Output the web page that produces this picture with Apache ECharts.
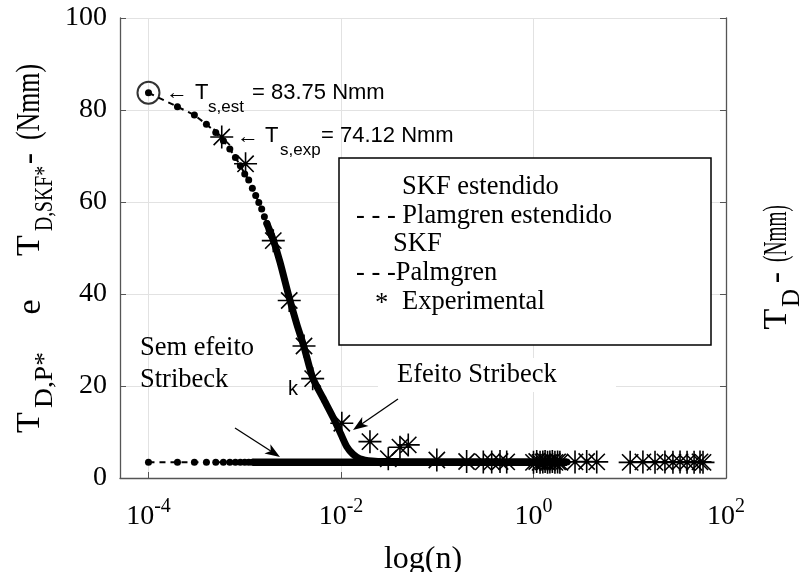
<!DOCTYPE html>
<html><head><meta charset="utf-8">
<script src="https://cdn.jsdelivr.net/npm/echarts@6/dist/echarts.min.js"></script>
<style>html,body{margin:0;padding:0;background:#fff}#c{width:806px;height:572px}</style>
</head><body><div id="c"></div>
<script>
// ---- tick values ----
const xTicks = [1e-4, 1e-2, 1, 100];
const yTicks = [0, 20, 40, 60, 80, 100];

// ---- "Plamgren estendido" (dotted, dashed) ----
const plamgrenEstN = [1e-4,2e-4,3e-4,4e-4,5e-4,6e-4,7e-4,8e-4,9e-4,1e-3,1.1e-3,1.2e-3,1.3e-3,1.4e-3,1.5e-3,1.6e-3,1.7e-3,1.8e-3,1.9e-3,2e-3];
const plamgrenEstT = [83.75,80.7,78.9,76.9,75.1,73.3,71.5,69.7,67.9,66.1,64.8,63.0,61.4,59.9,58.5,56.8,55.3,53.8,52.7,51.6];

// ---- "SKF estendido" (thick solid) ----
const skfEstN = [1.7e-3,1.99e-3,2.32e-3,2.9e-3,3.47e-3,4.13e-3,5.08e-3,6.5e-3,8.26e-3,0.01,0.0115,0.0133,0.0157,0.021,0.0323,2.23];
const skfEstT = [55.3,51.6,47.0,39.2,33.5,28.5,21.8,17.4,13.2,9.5,6.8,5.2,4.2,3.7,3.5,3.5];

// ---- "Palmgren" (dotted, dashed) ----
const palmgrenN = [1e-4,2e-4,3e-4,4e-4,5e-4,6e-4,7e-4,8e-4,9e-4,1e-3,1.1e-3,1.2e-3];
const palmgrenT = [3.4,3.4,3.4,3.4,3.4,3.4,3.4,3.4,3.4,3.4,3.4,3.4];

// ---- "SKF" (thick solid) ----
const skfN = [1.2e-3, 2.23];
const skfT = [3.4, 3.4];

// ---- Experimental (*) ----
const expN = [5.77e-4,1.02e-3,1.98e-3,2.9e-3,4.13e-3,5.08e-3,0.0102,0.020,0.031,0.041,0.050,0.099,0.202,0.301,0.368,0.449,0.527,1.0,1.08,1.17,1.25,1.32,1.40,1.48,1.57,1.67,1.78,1.88,2.70,3.57,4.54,10.1,13.7,18.3,23.2,28.1,33.3,39.4,46.6,53.7,57.7];
const expT = [74.12,68.3,51.6,38.6,28.7,21.6,11.9,7.9,4.2,6.7,7.2,3.9,3.6,3.5,3.5,3.6,3.5,3.4,3.6,3.4,3.5,3.6,3.4,3.5,3.6,3.4,3.5,3.4,3.5,3.6,3.5,3.4,3.5,3.4,3.5,3.4,3.5,3.4,3.4,3.5,3.4];

// ---- T_s,est marker ----
const tsEstN = [1e-4];
const tsEstT = [83.75];

const SERIF = '"Liberation Serif", "Times New Roman", serif';
const SANS = '"Liberation Sans", Arial, "DejaVu Sans", sans-serif';
const pairs = (a, b) => a.map((v, i) => [v, b[i]]);
const starPath = 'path://M10 0L10 20M0 10L20 10M2.93 2.93L17.07 17.07M2.93 17.07L17.07 2.93';

const mctx = document.createElement('canvas').getContext('2d');
function measure(t, size, fam) { mctx.font = size + 'px ' + fam; return mctx.measureText(t).width; }
function vtext(t, yTop, yBot, xc, size, fam, natural) {
  const nat = measure(t, size, fam);
  return { type: 'text', x: xc, y: (yTop + yBot) / 2, rotation: Math.PI / 2, scaleX: natural ? 1 : (yBot - yTop) / nat, z: 20,
    style: { text: t, font: size + 'px ' + fam, fill: '#000', textAlign: 'center', textVerticalAlign: 'middle', align: 'center', verticalAlign: 'middle' } };
}
function htext(t, x, y, size, fam) {
  return { type: 'text', x: x, y: y, z: 20,
    style: { text: t, font: size + 'px ' + fam, fill: '#000', textAlign: 'left', textVerticalAlign: 'middle', align: 'left', verticalAlign: 'middle' } };
}
function arrow(x1, y1, x2, y2) {
  const a = Math.atan2(y2 - y1, x2 - x1), L = 15, W = 5.5;
  const c = Math.cos(a), s = Math.sin(a);
  const bx = x2 - L * c, by = y2 - L * s;
  const nx = x2 - (L - 4) * c, ny = y2 - (L - 4) * s;
  return [
    { type: 'line', z: 20, shape: { x1: x1, y1: y1, x2: nx, y2: ny }, style: { stroke: '#000', lineWidth: 1.3 } },
    { type: 'polygon', z: 20, shape: { points: [[x2, y2], [bx - s * W, by + c * W], [nx, ny], [bx + s * W, by - c * W]] }, style: { fill: '#000' } }
  ];
}

const graphics = [].concat(
  [{ type: 'rect', z: 1, shape: { x: 378, y: 358, width: 238, height: 34 }, style: { fill: '#fff' } }],
  [{ type: 'rect', z: 15, shape: { x: 339, y: 158, width: 372, height: 187 }, style: { fill: '#fff', stroke: '#000', lineWidth: 1.5 } }],
  [htext('SKF estendido', 402, 187, 26.5, SERIF),
   htext('- - - Plamgren estendido', 356, 216, 26.5, SERIF),
   htext('SKF', 393, 244, 26.5, SERIF),
   htext('- - -Palmgren', 356, 273, 26.5, SERIF),
   htext('*', 375, 304, 26.5, SERIF),
   htext('Experimental', 402, 302, 26.5, SERIF)],
  [htext('\u2190', 166, 93, 22, SANS), htext('T', 195, 93, 22, SANS), htext('s,est', 208, 107, 17, SANS), htext('= 83.75 Nmm', 252, 93, 22, SANS),
   htext('\u2190', 237, 137, 22, SANS), htext('T', 265, 136, 22, SANS), htext('s,exp', 280, 150, 17, SANS), htext('= 74.12 Nmm', 321, 136, 22, SANS)],
  [htext('k', 288, 389, 20, SANS)],
  [htext('Sem efeito', 140, 348, 26.5, SERIF), htext('Stribeck', 140, 380, 26.5, SERIF)],
  [htext('Efeito Stribeck', 397, 375, 26.5, SERIF)],
  arrow(235, 428, 280, 457),
  arrow(398, 399, 353, 430),
  // left axis name (rotated)
  [vtext('T', 410, 435, 30, 34, SERIF, true), vtext('D,P*', 352, 408, 45, 25, SERIF), vtext('e', 297, 317, 31, 34, SERIF, true),
   vtext('T', 233, 258, 30, 34, SERIF, true), vtext('D,SKF*', 166, 231, 45, 25, SERIF), vtext('-', 153, 164, 30, 34, SERIF, true),
   vtext('(Nmm)', 64, 140, 30, 34, SERIF)],
  // right axis name (rotated)
  [vtext('T', 308, 330, 777, 34, SERIF, true), vtext('D', 290, 306, 792, 25, SERIF, true), vtext('-', 272, 283, 777, 34, SERIF, true),
   vtext('(Nmm)', 205, 262, 777, 34, SERIF)]
);

const axisColor = '#555';
const chart = echarts.init(document.getElementById('c'), null, { renderer: 'canvas' });
chart.setOption({
  animation: false,
  backgroundColor: '#fff',
  grid: { left: 120, right: 80, top: 18, bottom: 94, containLabel: false, outerBoundsMode: 'none' },
  xAxis: {
    type: 'log', logBase: 10, min: 5.06e-5, max: 100,
    axisLine: { show: true, onZero: false, lineStyle: { color: axisColor, width: 1.3 } },
    axisTick: { show: true, inside: true, length: 6, customValues: xTicks, lineStyle: { color: axisColor } },
    axisLabel: {
      customValues: xTicks, margin: 19,
      formatter: v => '{b|10}{s|' + Math.round(Math.log10(v)) + '}',
      rich: {
        b: { fontFamily: SERIF, fontSize: 28, color: '#000', verticalAlign: 'bottom', lineHeight: 34 },
        s: { fontFamily: SERIF, fontSize: 20, color: '#000', verticalAlign: 'top', lineHeight: 8 }
      }
    },
    splitLine: { show: true, lineStyle: { color: '#e2e2e2', width: 1 } },
    name: 'log(n)', nameLocation: 'middle', nameGap: 66,
    nameTextStyle: { fontFamily: SERIF, fontSize: 32, color: '#000' }
  },
  yAxis: [{
    type: 'value', min: 0, max: 100, interval: 20, position: 'left',
    axisLine: { show: true, lineStyle: { color: axisColor, width: 1.3 } },
    axisTick: { show: true, inside: true, length: 6, lineStyle: { color: axisColor } },
    axisLabel: { fontFamily: SERIF, fontSize: 28, color: '#000', margin: 13 },
    splitLine: { show: true, lineStyle: { color: '#e2e2e2', width: 1 } }
  }, {
    type: 'value', min: 0, max: 100, interval: 20, position: 'right',
    axisLine: { show: true, lineStyle: { color: axisColor, width: 1.3 } },
    axisTick: { show: true, inside: true, length: 6, lineStyle: { color: axisColor } },
    axisLabel: { show: false },
    splitLine: { show: false }
  }],
  series: [
    { name: 'SKF estendido', type: 'line', data: pairs(skfEstN, skfEstT), symbol: 'none', smooth: 0.25,
      lineStyle: { color: '#000', width: 7, cap: 'round', join: 'round' }, z: 3 },
    { name: 'SKF', type: 'line', data: pairs(skfN, skfT), symbol: 'none',
      lineStyle: { color: '#000', width: 7.5 }, z: 3 },
    { name: 'Plamgren estendido', type: 'line', data: pairs(plamgrenEstN, plamgrenEstT), symbol: 'circle', symbolSize: 7, showAllSymbol: true,
      itemStyle: { color: '#000' }, lineStyle: { color: '#000', width: 2, type: [6, 5] }, z: 4 },
    { name: 'Palmgren', type: 'line', data: pairs(palmgrenN, palmgrenT), symbol: 'circle', symbolSize: 7, showAllSymbol: true,
      itemStyle: { color: '#000' }, lineStyle: { color: '#000', width: 2, type: [6, 5] }, z: 4 },
    { name: 'Experimental', type: 'scatter', data: pairs(expN, expT), symbol: starPath, symbolSize: 23,
      itemStyle: { color: 'rgba(0,0,0,0)', borderColor: '#000', borderWidth: 1.6, opacity: 1 }, z: 5 },
    { name: 'Ts,est', type: 'scatter', data: pairs(tsEstN, tsEstT), symbol: 'circle', symbolSize: 22,
      itemStyle: { color: 'rgba(0,0,0,0)', borderColor: '#000', borderWidth: 2 }, z: 6 }
  ],
  graphic: graphics
});
</script>
</body></html>
